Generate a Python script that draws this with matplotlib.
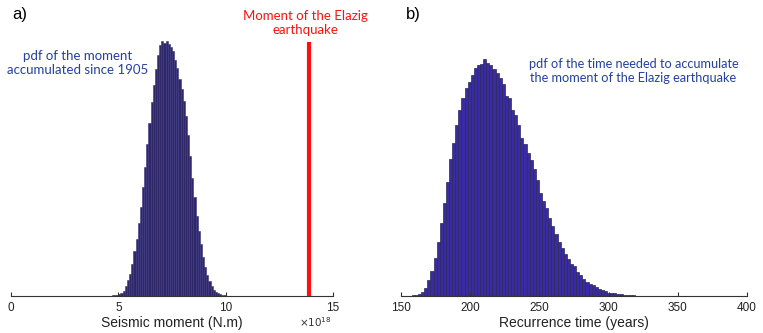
import matplotlib.pyplot as plt
import numpy as np

# seismic moment histogram (x 1e18 N.m), bins of 0.1 starting at 4.1
moment_bin0 = 4.1
moment_binw = 0.1
moment_counts = [0.2, 0.2, 0.3, 0.3, 0.4, 0.5, 0.7, 1.0, 1.5, 2.2,
                 3.2, 5, 10, 16, 22, 32, 45, 57, 73, 89,
                 109, 129, 152, 173, 194, 211, 227, 241, 251, 255,
                 253, 255, 252, 249, 245, 236, 228, 217, 207, 195,
                 180, 161, 140, 118, 99, 80, 65, 52, 39, 29,
                 21, 15, 10, 6.5, 4.2, 2.6, 1.6, 0.9, 0.6, 0.4, 0.3]
elazig_moment = 13.9
elazig_height = 254

# recurrence time histogram (years)
time_bin0 = 151.1
time_binw = 2.24
time_counts = [0.2, 0.3, 0.5, 0.7, 1.0, 2.3, 4, 8.3, 16, 25,
               38, 54, 73, 93, 114, 137, 153, 171, 186, 198,
               208, 214, 221, 228, 231, 232, 237, 233, 231, 227,
               223, 218, 212, 200, 198, 186, 181, 171, 158, 152,
               143, 136, 127, 116, 103, 95, 88, 78, 70, 62,
               54, 48, 42, 37, 32, 30, 24, 21, 17, 14,
               12, 11, 9, 7, 6, 5, 3.3, 3, 2.7, 2,
               1.7, 1.3, 1, 1, 0.7, 0.5, 0.5, 0.3, 0.3, 0.2,
               0.2, 0.1, 0.1, 0.1]

moment_ticks = [0, 5, 10, 15]
time_ticks = [150, 200, 250, 300, 350, 400]

blue = '#2540a0'
axcol = '#333333'

fig = plt.figure(figsize=(7.63, 3.33), dpi=100)
ax1 = fig.add_axes([11/763, 37/333, 322/763, 256/333])
ax2 = fig.add_axes([401/763, 37/333, 346/763, 256/333])


def style(ax, ticks, xlabel):
    for s in ['top', 'right', 'left']:
        ax.spines[s].set_visible(False)
    ax.spines['bottom'].set_color(axcol)
    ax.spines['bottom'].set_linewidth(0.8)
    ax.set_yticks([])
    ax.set_xticks(ticks)
    ax.set_xticklabels([str(t) for t in ticks], family='Liberation Sans', fontsize=8.5, color='#222222')
    ax.tick_params(axis='x', direction='in', length=3, width=0.8, color=axcol, pad=4)
    ax.set_xlim(ticks[0], ticks[-1])
    ax.set_ylim(0, 256)
    ax.set_xlabel(xlabel, family='Liberation Sans', fontsize=10, color='#222222', labelpad=2)


x1 = moment_bin0 + moment_binw * (np.arange(len(moment_counts)) + 0.5)
ax1.bar(x1, moment_counts, width=moment_binw, color='#2e2868', edgecolor='#3b3580', linewidth=0.4)
ax1.plot([elazig_moment, elazig_moment], [0, elazig_height], color='#ff1010', lw=3, solid_capstyle='butt')
style(ax1, moment_ticks, 'Seismic moment (N.m)')
ax1.text(0.05, 281, 'a)', fontsize=12, family='Liberation Sans', va='center', ha='left', clip_on=False)
ax1.text(3.1, 233, 'pdf of the moment\naccumulated since 1905', color=blue, family='Lato', fontsize=9.5,
         ha='center', va='center', linespacing=1.25)
ax1.text(13.7, 273, 'Moment of the Elazig\nearthquake', color='#ff1010', family='Lato', fontsize=9.5,
         ha='center', va='center', linespacing=1.25, clip_on=False)
ax1.text(14.2, -26, r'$\times10^{18}$', fontsize=7.5, color='#333333', ha='center', va='center')

x2 = time_bin0 + time_binw * (np.arange(len(time_counts)) + 0.5)
ax2.bar(x2, time_counts, width=time_binw, color='#3a2aa3', edgecolor='#2a2a55', linewidth=0.5)
style(ax2, time_ticks, 'Recurrence time (years)')
ax2.text(153.5, 281, 'b)', fontsize=12, family='Liberation Sans', va='center', ha='left', clip_on=False)
ax2.text(318, 225, 'pdf of the time needed to accumulate\nthe moment of the Elazig earthquake', color=blue,
         family='Lato', fontsize=9.2, ha='center', va='center', linespacing=1.25)

fig.savefig('out.png', dpi=100)
